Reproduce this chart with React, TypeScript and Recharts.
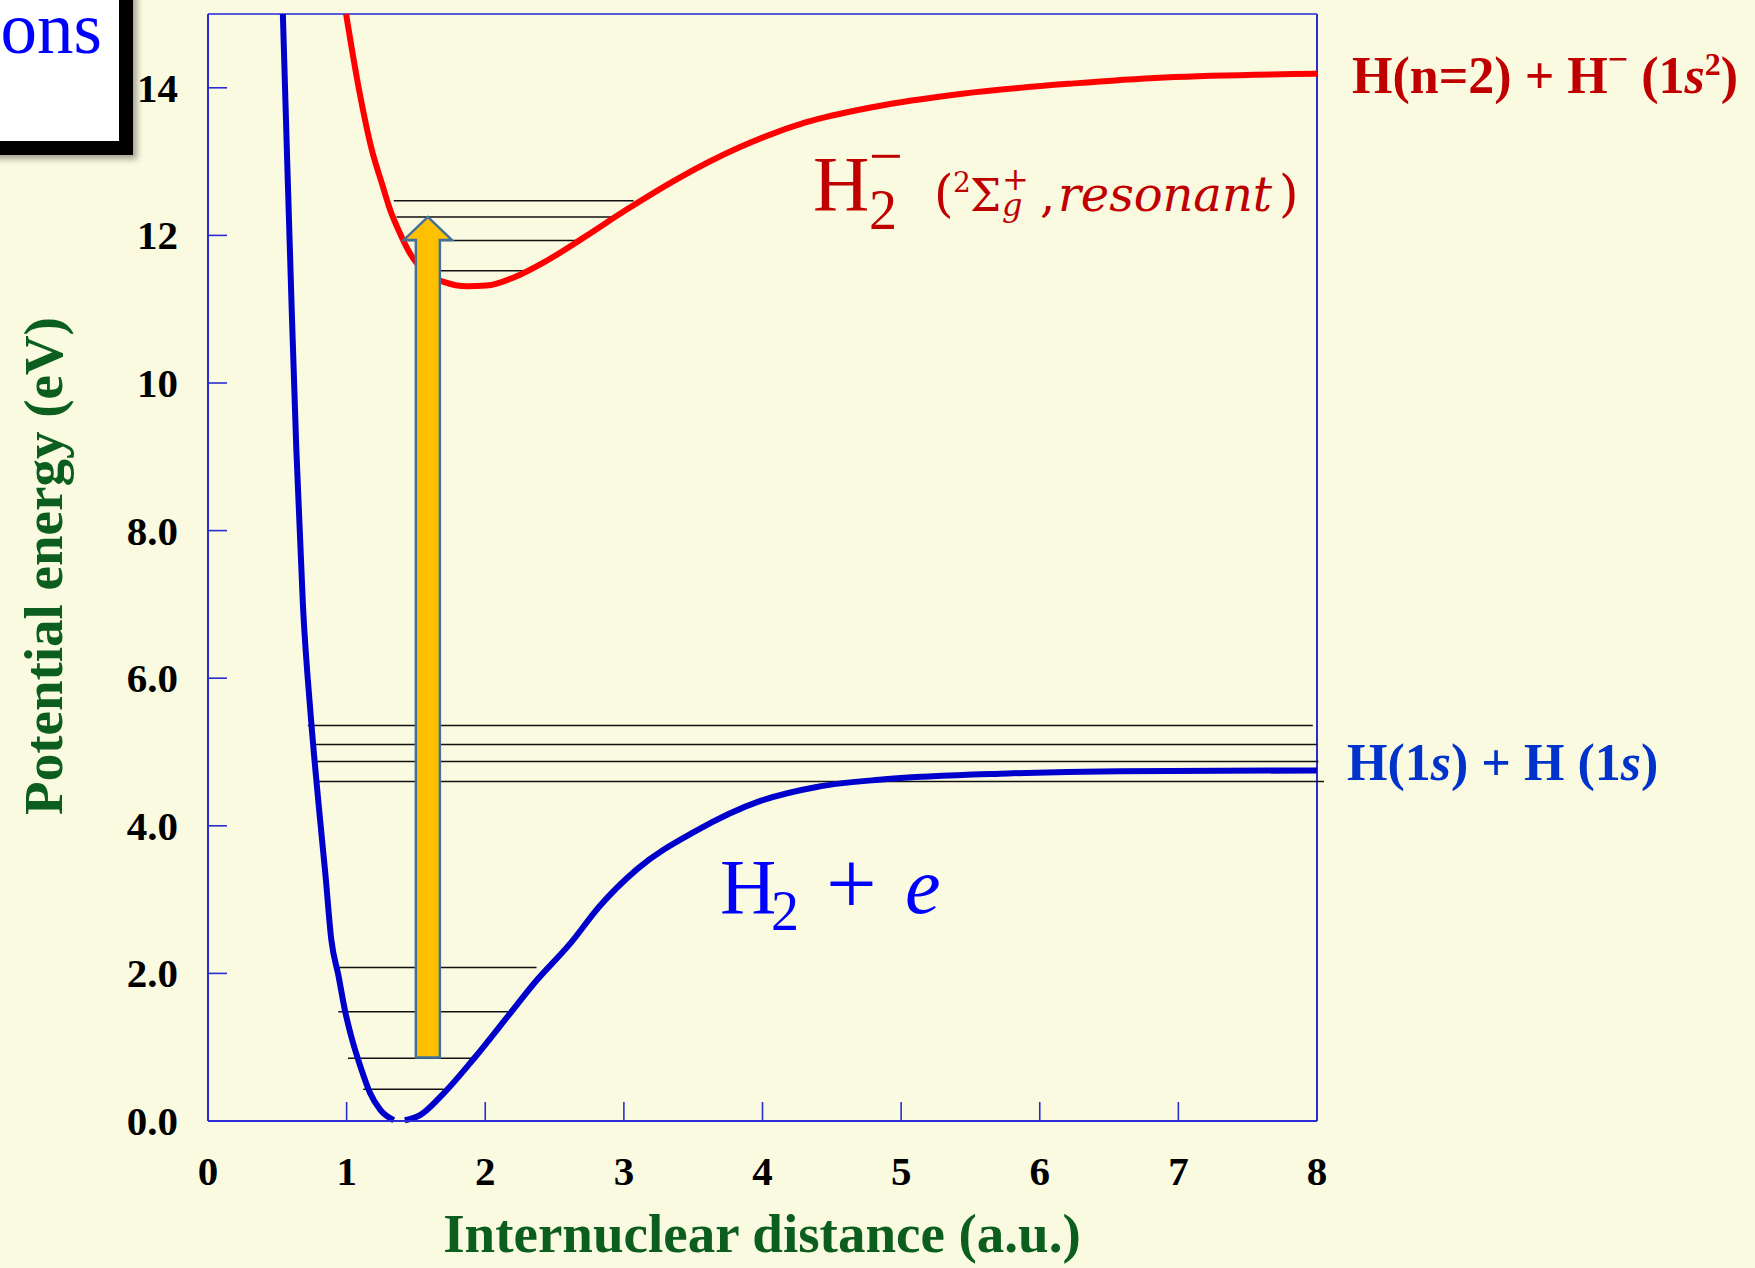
import React from 'react';
import { LineChart, Line, XAxis, YAxis, ReferenceLine } from 'recharts';

// H2 ground state (X 1Σg+), r in a.u., energy in eV
const groundLeft = [
  { r: 0.54, e: 15.0 }, { r: 0.573, e: 12.9 }, { r: 0.605, e: 10.93 }, { r: 0.637, e: 9.11 },
  { r: 0.685, e: 6.98 }, { r: 0.742, e: 5.47 }, { r: 0.8, e: 4.25 }, { r: 0.847, e: 3.34 },
  { r: 0.89, e: 2.45 }, { r: 0.94, e: 1.98 }, { r: 0.99, e: 1.48 }, { r: 1.04, e: 1.1 },
  { r: 1.1, e: 0.735 }, { r: 1.17, e: 0.375 }, { r: 1.243, e: 0.15 }, { r: 1.34, e: 0.01 },
];
const groundRight = [
  { r: 1.42, e: 0.01 }, { r: 1.53, e: 0.08 }, { r: 1.7, e: 0.375 }, { r: 1.92, e: 0.85 },
  { r: 2.18, e: 1.46 }, { r: 2.35, e: 1.86 }, { r: 2.62, e: 2.42 }, { r: 2.82, e: 2.9 },
  { r: 3.1, e: 3.42 }, { r: 3.51, e: 3.92 }, { r: 3.99, e: 4.34 }, { r: 4.4, e: 4.53 },
  { r: 4.88, e: 4.63 }, { r: 5.77, e: 4.71 }, { r: 6.57, e: 4.74 }, { r: 8.0, e: 4.75 },
];
// H2- resonant state (2Σg+)
const resonant = [
  { r: 0.996, e: 15.0 }, { r: 1.09, e: 13.97 }, { r: 1.183, e: 13.15 }, { r: 1.255, e: 12.7 },
  { r: 1.315, e: 12.34 }, { r: 1.387, e: 12.02 }, { r: 1.459, e: 11.75 }, { r: 1.58, e: 11.48 },
  { r: 1.7, e: 11.37 }, { r: 1.87, e: 11.31 }, { r: 2.01, e: 11.32 }, { r: 2.205, e: 11.43 },
  { r: 2.446, e: 11.66 }, { r: 2.71, e: 11.97 }, { r: 3.02, e: 12.35 }, { r: 3.39, e: 12.77 },
  { r: 3.83, e: 13.19 }, { r: 4.31, e: 13.53 }, { r: 4.8, e: 13.74 }, { r: 5.44, e: 13.92 },
  { r: 6.25, e: 14.06 }, { r: 6.9, e: 14.14 }, { r: 8.0, e: 14.19 },
];

// vibrational levels: energy, left and right turning points
const groundLevels = [
  { e: 2.08, r1: 0.94, r2: 2.37 }, { e: 1.48, r1: 0.94, r2: 2.18 },
  { e: 0.85, r1: 1.01, r2: 1.92 }, { e: 0.43, r1: 1.12, r2: 1.7 },
];
const highLevels = [
  { e: 5.36, r1: 0.72, r2: 7.97 }, { e: 5.1, r1: 0.76, r2: 8.0 },
  { e: 4.87, r1: 0.78, r2: 8.01 }, { e: 4.6, r1: 0.8, r2: 8.05 },
];
const resonantLevels = [
  { e: 12.47, r1: 1.34, r2: 3.07 }, { e: 12.25, r1: 1.36, r2: 2.91 },
  { e: 11.93, r1: 1.44, r2: 2.69 }, { e: 11.52, r1: 1.6, r2: 2.34 },
];

// excitation arrow
const excitation = { r: 1.586, from: 0.86, to: 12.25 };

const xTicks = [0, 1, 2, 3, 4, 5, 6, 7, 8];
const yTicks = [0, 2, 4, 6, 8, 10, 12, 14];
const xDomain = [0, 8];
const yDomain = [0, 15];

const BG = '#FAFAE1';
const AXIS = '#2B2BD6';
const SERIF = '"Liberation Serif", "Times New Roman", serif';
const MATH = '"DejaVu Serif", serif';
const TICK_LEN = 19;
const Y_GAP = 30;
const X_GAP = 64;

const fmtY = (v: number) => (v >= 10 ? String(v) : v.toFixed(1));

const LeftTick = (props: any) => {
  const { x, y, payload } = props;
  return (
    <g>
      <line x1={x + Y_GAP} x2={x + Y_GAP + TICK_LEN} y1={y} y2={y} stroke={AXIS} strokeWidth={1.6} />
      <text x={x} y={y} dy="0.34em" textAnchor="end" fontFamily={SERIF} fontWeight="bold" fontSize={41} fill="#000">
        {fmtY(payload.value)}
      </text>
    </g>
  );
};

const RightTick = (props: any) => {
  const { x, y } = props;
  return <line x1={x - 10} x2={x - 10 - TICK_LEN} y1={y} y2={y} stroke={AXIS} strokeWidth={1.6} />;
};

const BottomTick = (props: any) => {
  const { x, y, payload } = props;
  return (
    <g>
      <line x1={x} x2={x} y1={y - X_GAP} y2={y - X_GAP - TICK_LEN} stroke={AXIS} strokeWidth={1.6} />
      <text x={x} y={y} textAnchor="middle" fontFamily={SERIF} fontWeight="bold" fontSize={41} fill="#000">
        {payload.value}
      </text>
    </g>
  );
};

const BlockArrow = (props: any) => {
  const { x1, y1, y2 } = props;
  const top = Math.min(y1, y2);
  const bottom = Math.max(y1, y2);
  const hw = 12;
  const headW = 24;
  const headLen = 23;
  const pts = [
    [x1 - hw, bottom], [x1 + hw, bottom], [x1 + hw, top + headLen], [x1 + headW, top + headLen],
    [x1, top], [x1 - headW, top + headLen], [x1 - hw, top + headLen],
  ].map((p) => p.join(',')).join(' ');
  return <polygon points={pts} fill="#FFC000" stroke="#41719C" strokeWidth={2.5} strokeLinejoin="miter" />;
};

const levelLine = (l: { e: number; r1: number; r2: number }, key: string) => (
  <ReferenceLine
    key={key}
    segment={[{ x: l.r1, y: l.e }, { x: l.r2, y: l.e }]}
    stroke="#111"
    strokeWidth={1.5}
    ifOverflow="visible"
  />
);

export default function App() {
  return (
    <div style={{ position: 'absolute', left: 0, top: 0, width: 1755, height: 1268, background: BG, overflow: 'hidden' }}>
      <LineChart width={1755} height={1268} margin={{ top: 14, right: 438, bottom: 0, left: 0 }}>
        <XAxis
          type="number"
          dataKey="r"
          domain={xDomain}
          ticks={xTicks}
          height={147}
          tickSize={0}
          tickMargin={X_GAP}
          tick={<BottomTick />}
          tickLine={false}
          axisLine={{ stroke: AXIS, strokeWidth: 2 }}
        />
        <YAxis
          type="number"
          domain={yDomain}
          ticks={yTicks}
          width={208}
          tickSize={0}
          tickMargin={Y_GAP}
          tick={<LeftTick />}
          tickLine={false}
          axisLine={{ stroke: AXIS, strokeWidth: 2 }}
        />
        <YAxis
          yAxisId="right"
          orientation="right"
          type="number"
          domain={yDomain}
          ticks={yTicks}
          width={0}
          tickSize={0}
          tickMargin={10}
          tick={<RightTick />}
          tickLine={false}
          axisLine={false}
        />
        {/* frame: right and top edges of the plot box */}
        <ReferenceLine x={xDomain[1]} stroke={AXIS} strokeWidth={2} ifOverflow="visible" />
        <ReferenceLine y={yDomain[1]} stroke="#5A5ADC" strokeWidth={2} ifOverflow="visible" />
        {highLevels.map((l, i) => levelLine(l, 'h' + i))}
        {groundLevels.map((l, i) => levelLine(l, 'g' + i))}
        {resonantLevels.map((l, i) => levelLine(l, 'r' + i))}
        <Line data={groundLeft} dataKey="e" type="monotone" stroke="#0000CC" strokeWidth={6} dot={false} isAnimationActive={false} />
        <Line data={groundRight} dataKey="e" type="monotone" stroke="#0000CC" strokeWidth={6} dot={false} isAnimationActive={false} />
        <Line data={resonant} dataKey="e" type="monotone" stroke="#FF0000" strokeWidth={6} dot={false} isAnimationActive={false} />
        <ReferenceLine
          segment={[{ x: excitation.r, y: excitation.from }, { x: excitation.r, y: excitation.to }]}
          ifOverflow="visible"
          shape={<BlockArrow />}
        />
      </LineChart>

      <svg width={1755} height={1268} style={{ position: 'absolute', left: 0, top: 0, pointerEvents: 'none' }}>
        <defs>
          <filter id="boxShadow" x="-20%" y="-20%" width="150%" height="150%">
            <feDropShadow dx={4} dy={4} stdDeviation={3} floodColor="#000" floodOpacity={0.35} />
          </filter>
        </defs>
        <rect x={-60} y={-60} width={186} height={208} fill="#fff" stroke="#000" strokeWidth={14} filter="url(#boxShadow)" />
        <text x={102} y={53} textAnchor="end" fontFamily={SERIF} fontSize={73} fill="#0000FF">ons</text>

        <text x={762} y={1252} textAnchor="middle" fontFamily={SERIF} fontWeight="bold" fontSize={55} fill="#0B5E1E">
          Internuclear distance (a.u.)
        </text>
        <text x={62} y={566} transform="rotate(-90 62 566)" textAnchor="middle" fontFamily={SERIF} fontWeight="bold" fontSize={55} fill="#0B5E1E">
          Potential energy (eV)
        </text>

        <text x={1352} y={93} fontFamily={SERIF} fontWeight="bold" fontSize={52} fill="#C00000">
          H(n=2) + H<tspan dy={-22} fontSize={36}>−</tspan>
          <tspan dy={22}> (1</tspan>
          <tspan fontStyle="italic">s</tspan>
          <tspan dy={-18} fontSize={32}>2</tspan>
          <tspan dy={18}>)</tspan>
        </text>
        <text x={1347} y={780} fontFamily={SERIF} fontWeight="bold" fontSize={52} fill="#0033CC">
          H(1<tspan fontStyle="italic">s</tspan>) + H (1<tspan fontStyle="italic">s</tspan>)
        </text>

        <g fill="#C00000">
          <text x={813} y={210} fontFamily={SERIF} fontSize={78}>H</text>
          <text x={869} y={229} fontFamily={SERIF} fontSize={56}>2</text>
          <text x={869} y={176} fontFamily={SERIF} fontSize={60}>−</text>
          <text x={934} y={211} fontFamily={MATH} fontSize={50}>(</text>
          <text x={953} y={192} fontFamily={MATH} fontSize={28}>2</text>
          <text x={970} y={211} fontFamily={MATH} fontSize={44}>Σ</text>
          <text x={1002} y={216} fontFamily={MATH} fontStyle="italic" fontSize={32}>g</text>
          <text x={1002} y={190} fontFamily={MATH} fontSize={32}>+</text>
          <text x={1040} y={211} fontFamily={MATH} fontSize={48}>,</text>
          <text x={1058} y={211} fontFamily={MATH} fontStyle="italic" fontSize={48} textLength={214} lengthAdjust="spacing">resonant</text>
          <text x={1279} y={211} fontFamily={MATH} fontSize={50}>)</text>
        </g>

        <g fill="#0000FF">
          <text x={720} y={913} fontFamily={SERIF} fontSize={78}>H</text>
          <text x={771} y={930} fontFamily={SERIF} fontSize={56}>2</text>
          <text x={826} y={914} fontFamily={SERIF} fontSize={90}>+</text>
          <text x={905} y={913} fontFamily={SERIF} fontStyle="italic" fontSize={80}>e</text>
        </g>
      </svg>
    </div>
  );
}
